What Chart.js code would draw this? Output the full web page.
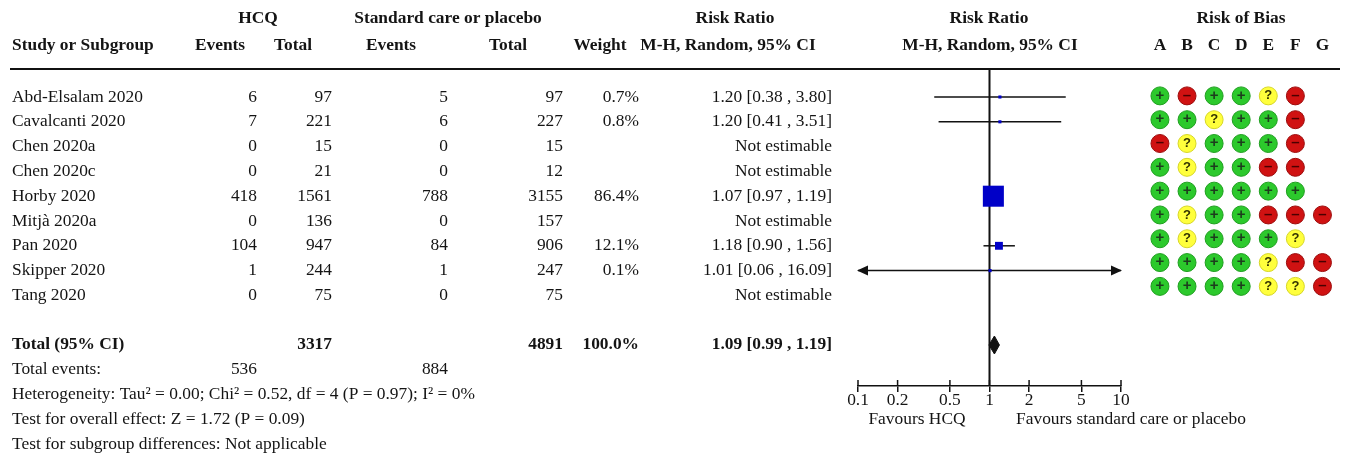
<!DOCTYPE html>
<html><head><meta charset="utf-8">
<script src="https://cdn.jsdelivr.net/npm/chart.js@4.4.1/dist/chart.umd.min.js"></script>
<style>
html,body{margin:0;padding:0;background:#fff;}
#wrap{position:relative;width:1346px;height:456px;overflow:hidden;background:#fff;}
#main{position:absolute;left:0;top:0;}
#rob{position:absolute;left:1130px;top:0;}
</style></head><body>
<div id="wrap"><canvas id="main" width="1346" height="456"></canvas><canvas id="rob" width="216" height="320"></canvas></div>
<script>
// ---------------- data ----------------
const studies = ['Abd-Elsalam 2020','Cavalcanti 2020','Chen 2020a','Chen 2020c','Horby 2020','Mitjà 2020a','Pan 2020','Skipper 2020','Tang 2020'];
const hcqEvents  = [6, 7, 0, 0, 418, 0, 104, 1, 0];
const hcqTotal   = [97, 221, 15, 21, 1561, 136, 947, 244, 75];
const ctrlEvents = [5, 6, 0, 0, 788, 0, 84, 1, 0];
const ctrlTotal  = [97, 227, 15, 12, 3155, 157, 906, 247, 75];
const weightPct  = [0.7, 0.8, null, null, 86.4, null, 12.1, 0.1, null];
const riskRatio  = [1.20, 1.20, null, null, 1.07, null, 1.18, 1.01, null];
const ciLower    = [0.38, 0.41, null, null, 0.97, null, 0.90, 0.06, null];
const ciUpper    = [3.80, 3.51, null, null, 1.19, null, 1.56, 16.09, null];
const totalHcq = 3317, totalCtrl = 4891, totalWeight = 100.0;
const totalEventsHcq = 536, totalEventsCtrl = 884;
const pooledRR = 1.09, pooledLower = 0.99, pooledUpper = 1.19;
const tickValues = [0.1, 0.2, 0.5, 1, 2, 5, 10];
const tickLabels = ['0.1', '0.2', '0.5', '1', '2', '5', '10'];
const robDomains = ['A', 'B', 'C', 'D', 'E', 'F', 'G'];
const robRatings = [
  ['+', '-', '+', '+', '?', '-', ''],
  ['+', '+', '?', '+', '+', '-', ''],
  ['-', '?', '+', '+', '+', '-', ''],
  ['+', '?', '+', '+', '-', '-', ''],
  ['+', '+', '+', '+', '+', '+', ''],
  ['+', '?', '+', '+', '-', '-', '-'],
  ['+', '?', '+', '+', '+', '?', ''],
  ['+', '+', '+', '+', '?', '-', '-'],
  ['+', '+', '+', '+', '?', '?', '-']
];
const headerTop = ['HCQ', 'Standard care or placebo', 'Risk Ratio', 'Risk Ratio', 'Risk of Bias'];
const headerSub = ['Study or Subgroup', 'Events', 'Total', 'Events', 'Total', 'Weight', 'M-H, Random, 95% CI', 'M-H, Random, 95% CI'];
const totalLabel = 'Total (95% CI)';
const totalEventsLabel = 'Total events:';
const footerLines = [
  'Heterogeneity: Tau² = 0.00; Chi² = 0.52, df = 4 (P = 0.97); I² = 0%',
  'Test for overall effect: Z = 1.72 (P = 0.09)',
  'Test for subgroup differences: Not applicable'
];
const favoursLabels = ['Favours HCQ', 'Favours standard care or placebo'];
const notEstimable = 'Not estimable';

// ---------------- layout / style ----------------
const FAMILY = "'Liberation Serif','Times New Roman',serif";
const FS = 17.4;
const TEXT = '#141414';
const INK = '#111111';
const ROW0_PX = 97, ROW_PX = 24.8, TOP_PX = 69, AXIS_PX = 386, W = 1346, H = 456;
const X_LEFT = 858, X_RIGHT = 1121;
const AXIS_BOX_H = 40;
const TOTAL_ROW = 10;
const L = {
  headTopY: 19, headSubY: 46,
  headTopX: [258, 448, 735, 989, 1241],
  headSubX: [12, 220, 293, 391, 508, 600, 728, 990],
  headSubAlign: ['left', 'center', 'center', 'center', 'center', 'center', 'center', 'center'],
  nameX: 12,
  ev1: 257, tot1: 332, ev2: 448, tot2: 563, wt: 639, rr: 832,
  favY: 419, favX: [917, 1131],
  lineX0: 10, lineX1: 1340
};
const ROB_CANVAS_L = 1130, ROB_CANVAS_W = 216, ROB_CANVAS_H = 320;
const ROB_X0 = 1160, ROB_DX = 27.2, ROB_R = 9;
const ROB_FILL = {'+': '#2cc92c', '-': '#d01212', '?': '#ffff3c'};
const ROB_EDGE = {'+': '#1f9e1f', '-': '#9c0c0c', '?': '#d6d626'};
const ROB_SYM = {'+': '+', '-': '–', '?': '?'};
const ROB_SYM_COLOR = {'+': '#1d3d1d', '-': '#4a0000', '?': '#333300'};

Chart.defaults.font.family = FAMILY;
Chart.defaults.color = TEXT;

const yMin = -(ROW0_PX - TOP_PX) / ROW_PX;
const yMax = yMin + (AXIS_PX - TOP_PX) / ROW_PX;
const DIAMOND_H = 9 / ROW_PX;

const estIdx = studies.map((_, i) => i).filter(i => riskRatio[i] !== null);
const fmt2 = v => v.toFixed(2);

const datasets = [];
datasets.push({
  type: 'scatter', label: 'Study RR',
  data: estIdx.map(i => ({x: riskRatio[i], y: i})),
  pointStyle: 'rect',
  pointRadius: estIdx.map(i => Math.max(2.2, 16 * Math.sqrt(weightPct[i] / 100))),
  backgroundColor: '#0000c8', borderWidth: 0, order: 0
});
datasets.push({
  type: 'line', label: 'Pooled',
  data: [
    {x: pooledLower, y: TOTAL_ROW},
    {x: pooledRR, y: TOTAL_ROW - DIAMOND_H},
    {x: pooledUpper, y: TOTAL_ROW},
    {x: pooledRR, y: TOTAL_ROW + DIAMOND_H},
    {x: pooledLower, y: TOTAL_ROW}
  ],
  fill: 'shape', backgroundColor: INK, borderColor: INK, borderWidth: 1,
  pointRadius: 0, tension: 0, order: 1
});
estIdx.forEach(i => datasets.push({
  type: 'line', label: 'CI ' + studies[i],
  data: [{x: ciLower[i], y: i}, {x: ciUpper[i], y: i}],
  borderColor: INK, borderWidth: 1.5, pointRadius: 0, fill: false, order: 2
}));
datasets.push({
  type: 'line', label: 'No effect',
  data: [{x: 1, y: yMin}, {x: 1, y: yMax}],
  borderColor: INK, borderWidth: 2, pointRadius: 0, fill: false, order: 3
});

const forestExtras = {
  id: 'forestExtras',
  afterDraw(chart) {
    const ctx = chart.ctx, ys = chart.scales.y, xs = chart.scales.x, area = chart.chartArea;
    const font = b => (b ? 'bold ' : '') + FS + 'px ' + FAMILY;
    const t = (s, x, y, align, bold) => { ctx.font = font(bold); ctx.textAlign = align; ctx.fillText(s, x, y); };
    ctx.save();
    // header rule
    ctx.strokeStyle = INK; ctx.lineWidth = 2;
    ctx.beginPath(); ctx.moveTo(L.lineX0, area.top); ctx.lineTo(L.lineX1, area.top); ctx.stroke();
    // upper half of axis ticks
    ctx.lineWidth = 1.5;
    tickValues.forEach(v => {
      const px = xs.getPixelForValue(v);
      ctx.beginPath(); ctx.moveTo(px, area.bottom - 6); ctx.lineTo(px, area.bottom); ctx.stroke();
    });
    // arrows for CIs beyond the axis
    ctx.fillStyle = INK;
    estIdx.forEach(i => {
      const py = ys.getPixelForValue(i);
      if (ciLower[i] < xs.min) {
        const px = xs.getPixelForValue(xs.min);
        ctx.beginPath(); ctx.moveTo(px - 1, py); ctx.lineTo(px + 10, py - 5); ctx.lineTo(px + 10, py + 5); ctx.closePath(); ctx.fill();
      }
      if (ciUpper[i] > xs.max) {
        const px = xs.getPixelForValue(xs.max);
        ctx.beginPath(); ctx.moveTo(px + 1, py); ctx.lineTo(px - 10, py - 5); ctx.lineTo(px - 10, py + 5); ctx.closePath(); ctx.fill();
      }
    });
    // table text
    ctx.fillStyle = TEXT; ctx.textBaseline = 'middle';
    headerTop.forEach((s, k) => t(s, L.headTopX[k], L.headTopY, 'center', true));
    headerSub.forEach((s, k) => t(s, L.headSubX[k], L.headSubY, L.headSubAlign[k], true));
    studies.forEach((s, i) => {
      const py = ys.getPixelForValue(i);
      t(s, L.nameX, py, 'left', false);
      t(String(hcqEvents[i]), L.ev1, py, 'right', false);
      t(String(hcqTotal[i]), L.tot1, py, 'right', false);
      t(String(ctrlEvents[i]), L.ev2, py, 'right', false);
      t(String(ctrlTotal[i]), L.tot2, py, 'right', false);
      if (weightPct[i] !== null) t(weightPct[i].toFixed(1) + '%', L.wt, py, 'right', false);
      t(riskRatio[i] !== null ? `${fmt2(riskRatio[i])} [${fmt2(ciLower[i])} , ${fmt2(ciUpper[i])}]` : notEstimable, L.rr, py, 'right', false);
    });
    let py = ys.getPixelForValue(TOTAL_ROW);
    t(totalLabel, L.nameX, py, 'left', true);
    t(String(totalHcq), L.tot1, py, 'right', true);
    t(String(totalCtrl), L.tot2, py, 'right', true);
    t(totalWeight.toFixed(1) + '%', L.wt, py, 'right', true);
    t(`${fmt2(pooledRR)} [${fmt2(pooledLower)} , ${fmt2(pooledUpper)}]`, L.rr, py, 'right', true);
    py = ys.getPixelForValue(TOTAL_ROW + 1);
    t(totalEventsLabel, L.nameX, py, 'left', false);
    t(String(totalEventsHcq), L.ev1, py, 'right', false);
    t(String(totalEventsCtrl), L.ev2, py, 'right', false);
    footerLines.forEach((s, k) => t(s, L.nameX, ys.getPixelForValue(TOTAL_ROW + 2 + k), 'left', false));
    favoursLabels.forEach((s, k) => t(s, L.favX[k], L.favY, 'center', false));
    ctx.restore();
  }
};

new Chart(document.getElementById('main'), {
  type: 'scatter',
  data: {datasets},
  options: {
    responsive: false, animation: false, devicePixelRatio: 1, events: [],
    layout: {padding: {left: X_LEFT, right: W - X_RIGHT, top: TOP_PX, bottom: H - AXIS_PX - AXIS_BOX_H}},
    plugins: {legend: {display: false}, tooltip: {enabled: false}},
    scales: {
      x: {
        type: 'logarithmic', min: tickValues[0], max: tickValues[tickValues.length - 1], position: 'bottom',
        afterBuildTicks: s => { s.ticks = tickValues.map(v => ({value: v})); },
        afterFit: s => { s.height = AXIS_BOX_H; },
        ticks: {autoSkip: false, maxRotation: 0, minRotation: 0, padding: -2, color: TEXT,
          font: {size: FS, family: FAMILY}, callback: (v, i) => tickLabels[i]},
        grid: {display: true, drawOnChartArea: false, drawTicks: true, tickLength: 6, color: INK, lineWidth: 1.5},
        border: {display: true, color: INK, width: 1.5}
      },
      y: {type: 'linear', reverse: true, min: yMin, max: yMax, display: false}
    }
  },
  plugins: [forestExtras]
});

// ---------------- risk of bias ----------------
const robPts = [], robBg = [], robBd = [], robKey = [];
robRatings.forEach((row, i) => row.forEach((r, k) => {
  if (!r) return;
  robPts.push({x: k, y: i}); robBg.push(ROB_FILL[r]); robBd.push(ROB_EDGE[r]); robKey.push(r);
}));
const yMin2 = -(ROW0_PX - TOP_PX) / ROW_PX;
const yMax2 = yMin2 + (ROB_CANVAS_H - TOP_PX) / ROW_PX;

const robSymbols = {
  id: 'robSymbols',
  afterDatasetsDraw(chart) {
    const ctx = chart.ctx, meta = chart.getDatasetMeta(0);
    ctx.save();
    ctx.textAlign = 'center'; ctx.textBaseline = 'middle';
    meta.data.forEach((pt, j) => {
      const r = robKey[j];
      ctx.font = (r === '?' ? 'bold 13px ' : 'bold 15px ') + "'Liberation Sans',sans-serif";
      ctx.fillStyle = ROB_SYM_COLOR[r];
      ctx.fillText(ROB_SYM[r], pt.x, pt.y + (r === '?' ? 0 : -0.5));
    });
    ctx.restore();
  }
};

new Chart(document.getElementById('rob'), {
  type: 'scatter',
  data: {datasets: [{
    label: 'Risk of bias', data: robPts, pointStyle: 'circle', pointRadius: ROB_R,
    backgroundColor: robBg, borderColor: robBd, borderWidth: 1
  }]},
  options: {
    responsive: false, animation: false, devicePixelRatio: 1, events: [],
    layout: {padding: {
      left: ROB_X0 - ROB_DX / 2 - ROB_CANVAS_L,
      right: ROB_CANVAS_W - (ROB_X0 + (robDomains.length - 0.5) * ROB_DX - ROB_CANVAS_L),
      top: 0, bottom: 0}},
    plugins: {legend: {display: false}, tooltip: {enabled: false}},
    scales: {
      x: {
        type: 'linear', position: 'top', min: -0.5, max: robDomains.length - 0.5,
        afterBuildTicks: s => { s.ticks = robDomains.map((_, k) => ({value: k})); },
        afterFit: s => { s.height = TOP_PX; },
        ticks: {autoSkip: false, maxRotation: 0, minRotation: 0, padding: 13.5, color: TEXT,
          font: {size: FS, family: FAMILY, weight: 'bold'}, callback: (v, i) => robDomains[i]},
        grid: {display: false, drawTicks: false},
        border: {display: false}
      },
      y: {type: 'linear', reverse: true, min: yMin2, max: yMax2, display: false}
    }
  },
  plugins: [robSymbols]
});
</script></body></html>
